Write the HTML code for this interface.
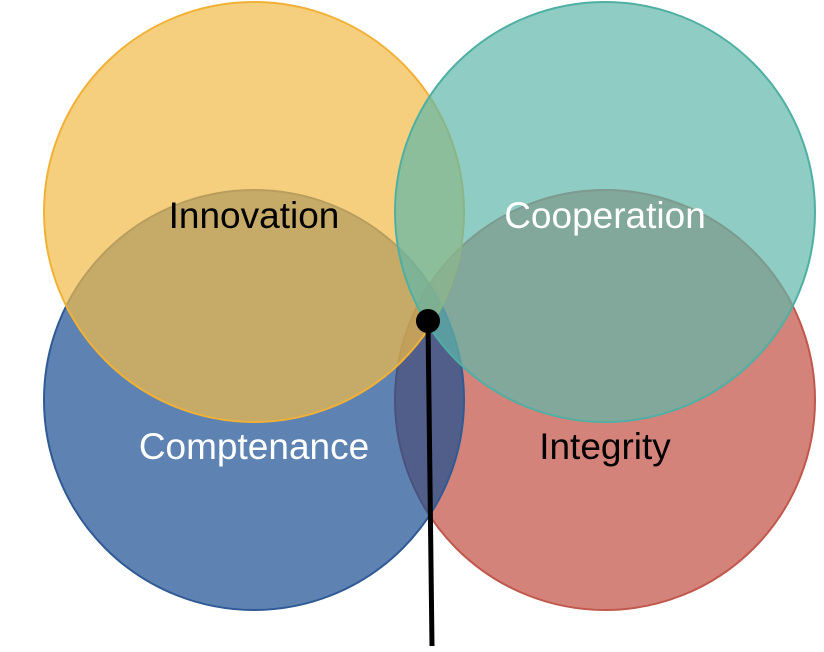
<!DOCTYPE html>
<html><head><meta charset="utf-8"><style>html,body{margin:0;padding:0;background:#fff}svg{display:block}</style></head>
<body>
<svg width="824" height="652" viewBox="0 0 824 652" xmlns="http://www.w3.org/2000/svg">
<g stroke-width="2">
<circle cx="605" cy="400" r="210" fill="#C24E41" fill-opacity="0.7" stroke="#C0584D"/>
<circle cx="254" cy="400" r="210" fill="#1A4F92" fill-opacity="0.7" stroke="#2F5A94"/>
<circle cx="254" cy="212" r="210" fill="#F2BA47" fill-opacity="0.7" stroke="#F1B136"/>
<circle cx="605" cy="212" r="210" fill="#5FB6A9" fill-opacity="0.7" stroke="#4FAFA2"/>
</g>
<line x1="428" y1="321" x2="432" y2="646" stroke="#000" stroke-width="5"/>
<circle cx="428" cy="321" r="12" fill="#000"/>
<g font-family="Liberation Sans, sans-serif" font-size="37" text-anchor="middle">
<text x="254" y="228" fill="#000">Innovation</text>
<text x="605" y="228" fill="#fff">Cooperation</text>
<text x="254" y="459" fill="#fff">Comptenance</text>
<text x="605" y="459" fill="#000">Integrity</text>
</g>
</svg>
</body></html>
